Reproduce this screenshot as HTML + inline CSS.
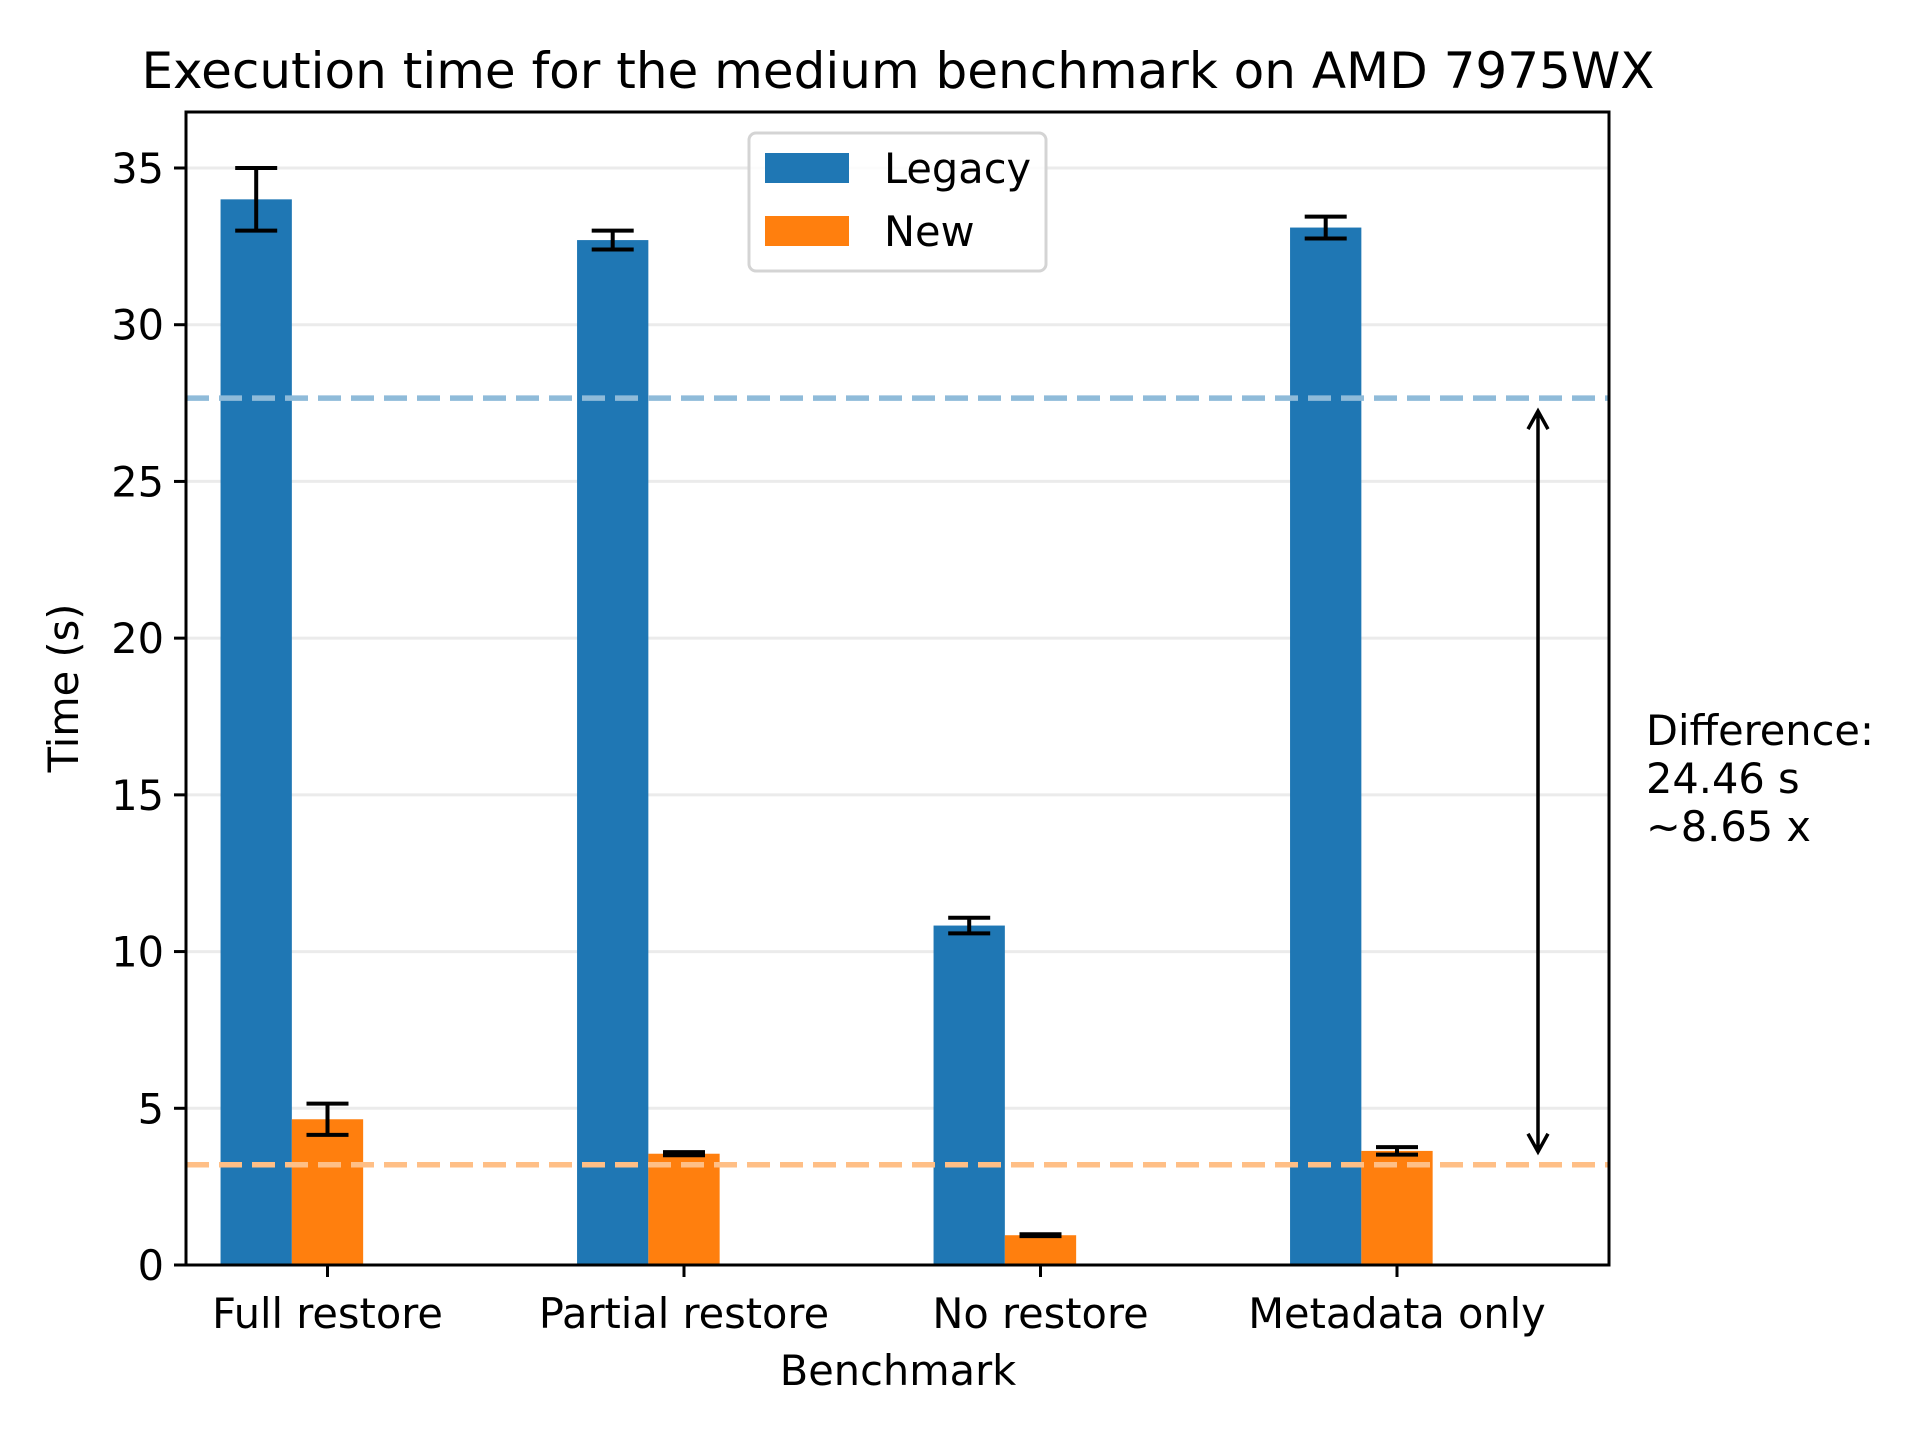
<!DOCTYPE html>
<html><head><meta charset="utf-8"><style>
html,body{margin:0;padding:0;background:#fff;}
svg{display:block;font-family:"DejaVu Sans","Liberation Sans",sans-serif;}
</style></head><body>
<svg id="chart" width="1920" height="1440" viewBox="0 0 1920 1440" xmlns="http://www.w3.org/2000/svg">
<rect width="1920" height="1440" fill="#fff"/>
<text x="898" y="88" font-size="50" text-anchor="middle">Execution time for the medium benchmark on AMD 7975WX</text>
<g id="grid"></g><g id="bars"></g><g id="errs"></g><g id="means"></g><g id="axes"></g><g id="legend"></g><g id="annot"></g>
</svg>
<script>
const categories = ["Full restore","Partial restore","No restore","Metadata only"];
const legacyValues = [34.0, 32.7, 10.83, 33.1];
const legacyErrors = [1.0, 0.3, 0.25, 0.35];
const newValues = [4.65, 3.55, 0.95, 3.64];
const newErrors = [0.5, 0.05, 0.03, 0.12];
const yTicks = [0,5,10,15,20,25,30,35];
const seriesNames = ["Legacy","New"];

const NS="http://www.w3.org/2000/svg";
const L=186,R=1609,T=112,B=1265;
const yMax=(B-T)/((B-168)/35);
function y(v){return B-(v/yMax)*(B-T);}
const spacing=356.5, x0=327.5;
function x(i){return x0+i*spacing;}
const bw=71.3;
function mk(tag,attrs,parent){const e=document.createElementNS(NS,tag);for(const k in attrs)e.setAttribute(k,attrs[k]);document.getElementById(parent).appendChild(e);return e;}

yTicks.forEach(t=>{
  const g=mk('line',{x1:L,x2:R,y1:y(t),y2:y(t),stroke:'#ebebeb','stroke-width':3},'grid');
  
  
});
const colors=["#1f77b4","#ff7f0e"];
[legacyValues,newValues].forEach((vals,s)=>{
  const errs=s===0?legacyErrors:newErrors;
  vals.forEach((v,i)=>{
    const bx=x(i)+(s===0?-1.5*bw:-0.5*bw);
    const r=mk('rect',{x:bx,y:y(v),width:bw,height:B-y(v),fill:colors[s]},'bars');
    
    
    const cx=bx+bw/2,e=errs[i];
    const eg=mk('path',{d:`M${cx} ${y(v+e)}V${y(v-e)}M${cx-21} ${y(v+e)}H${cx+21}M${cx-21} ${y(v-e)}H${cx+21}`,stroke:'#000','stroke-width':4,fill:'none'},'errs');
    
    
  });
});
const mean=a=>a.reduce((p,c)=>p+c,0)/a.length;
const mL=mean(legacyValues),mN=mean(newValues);
[[mL,'#8fbbd9'],[mN,'#ffbf86']].forEach(([m,c],k)=>{
  const l=mk('line',{x1:L,x2:R,y1:y(m),y2:y(m),stroke:c,'stroke-width':5.5,'stroke-dasharray':'23 10'},'means');
  
  
});
const fr=mk('rect',{x:L,y:T,width:R-L,height:B-T,fill:'none',stroke:'#000','stroke-width':3},'axes');


yTicks.forEach(t=>{
  mk('line',{x1:L-12,x2:L,y1:y(t),y2:y(t),stroke:'#000','stroke-width':3},'axes');
  const tx=mk('text',{x:L-22,y:y(t)+15,'font-size':41.5,'text-anchor':'end'},'axes');
  tx.textContent=t;
  
  
});
categories.forEach((c,i)=>{
  mk('line',{x1:x(i),x2:x(i),y1:B,y2:B+12,stroke:'#000','stroke-width':3},'axes');
  const tx=mk('text',{x:x(i),y:B+63,'font-size':41.5,'text-anchor':'middle'},'axes');
  tx.textContent=c;
  
  
});
const xl=mk('text',{x:898,y:1385,'font-size':41.5,'text-anchor':'middle'},'axes');
xl.textContent='Benchmark';


const yl=mk('text',{x:0,y:0,'font-size':41.5,'text-anchor':'middle',transform:'translate(78,688) rotate(-90)'},'axes');
yl.textContent='Time (s)';


const lb=mk('rect',{x:749,y:133,width:297,height:138,rx:7,fill:'#fff','fill-opacity':0.85,stroke:'#d4d4d4','stroke-width':3},'legend');


seriesNames.forEach((n,k)=>{
  const p=mk('rect',{x:765,y:153+k*63,width:84,height:30,fill:colors[k]},'legend');
  
  
  const t=mk('text',{x:884,y:183+k*63,'font-size':41.5},'legend');
  t.textContent=n;
  
  
});
const ax=1538,ya=y(mL)+13,yb=y(mN)-13;
const ar=mk('path',{d:`M${ax} ${ya}V${yb}M${ax-10} ${ya+18}L${ax} ${ya}L${ax+10} ${ya+18}M${ax-10} ${yb-18}L${ax} ${yb}L${ax+10} ${yb-18}`,stroke:'#000','stroke-width':3.5,fill:'none'},'annot');


const diff=(mL-mN).toFixed(2),ratio=(mL/mN).toFixed(2);
["Difference:",diff+" s","~"+ratio+" x"].forEach((s,k)=>{
  const t=mk('text',{x:1646,y:745+k*48,'font-size':41.5},'annot');
  t.textContent=s;
  
  
});
</script>
</body></html>
